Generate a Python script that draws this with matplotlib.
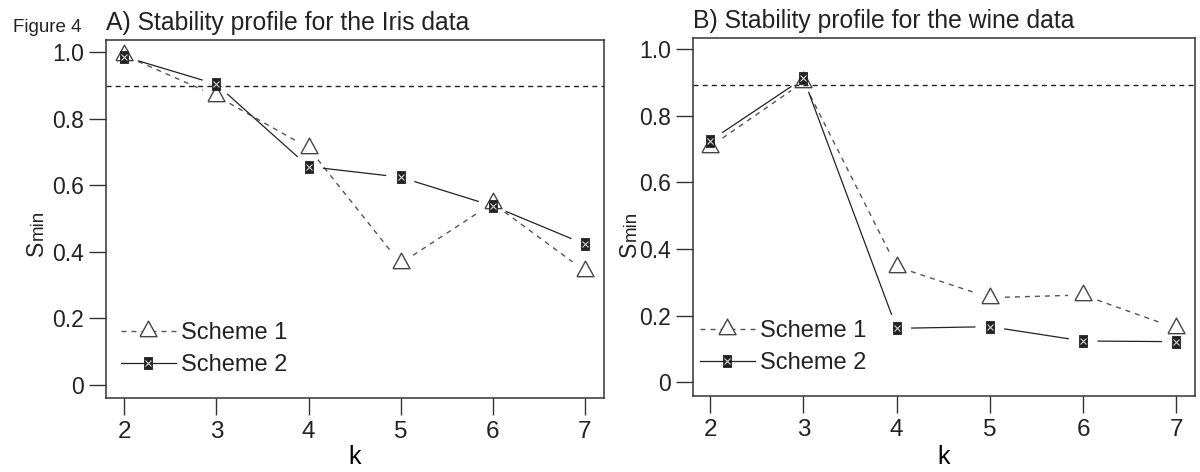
import numpy as np
import matplotlib
matplotlib.use("Agg")
import matplotlib.pyplot as plt
from matplotlib.lines import Line2D

plt.rcParams['font.family'] = ['Liberation Sans', 'DejaVu Sans']
plt.rcParams['text.color'] = '#222222'
plt.rcParams['axes.edgecolor'] = '#333333'
plt.rcParams['xtick.color'] = '#333333'
plt.rcParams['ytick.color'] = '#333333'
plt.rcParams['xtick.labelcolor'] = '#222222'
plt.rcParams['ytick.labelcolor'] = '#222222'

# 데이터
k = [2, 3, 4, 5, 6, 7]

iris_scheme1 = [0.990, 0.868, 0.712, 0.365, 0.546, 0.343]
iris_scheme2 = [0.986, 0.903, 0.656, 0.624, 0.538, 0.423]
iris_cutoff = 0.897

wine_scheme1 = [0.707, 0.901, 0.347, 0.254, 0.262, 0.162]
wine_scheme2 = [0.725, 0.912, 0.162, 0.167, 0.124, 0.122]
wine_cutoff = 0.892

titles = ['A) Stability profile for the Iris data',
          'B) Stability profile for the wine data']
series_labels = ['Scheme 1', 'Scheme 2']
yticks = [0, 0.2, 0.4, 0.6, 0.8, 1.0]
ytick_labels = ['0', '0.2', '0.4', '0.6', '0.8', '1.0']

# 마커 모양 (R의 pch=2 삼각형, pch=7 사각형 흉내)
tri = [(-0.823, -0.5), (0.823, -0.5), (0.0, 1.0), (-0.823, -0.5)]
box = [(-0.69, -1), (0.69, -1), (0.69, 1), (-0.69, 1), (-0.69, -1)]

gray = '#555555'
dark = '#222222'
dash = (0, (3.6, 3.6))

W, H = 1200, 472
fig = plt.figure(figsize=(W / 100, H / 100), dpi=100)


def px(x0, y0, x1, y1):
    # 픽셀 좌표 -> figure 비율
    return [x0 / W, 1 - y1 / H, (x1 - x0) / W, (y1 - y0) / H]


def gapped(ax, xs, ys, gap=15, **kw):
    # R의 type="b" 처럼 점 주변을 비우고 선분만 그림
    pts = ax.transData.transform(np.column_stack([xs, ys]))
    inv = ax.transData.inverted()
    for p, q in zip(pts[:-1], pts[1:]):
        d = q - p
        L = np.hypot(*d)
        if L <= 2 * gap:
            continue
        u = d / L
        a, b = inv.transform(np.array([p + u * gap, q - u * gap]))
        ax.plot([a[0], b[0]], [a[1], b[1]], **kw)


def draw_squares(ax, xs, ys):
    ax.plot(xs, ys, ls='none', marker=box, ms=9.3, mfc=dark, mec=dark,
            mew=0.6, zorder=5)
    ax.plot(xs, ys, ls='none', marker='x', ms=4.6, mec='#d0d0d0',
            mew=0.8, zorder=6)


# (axes 픽셀 박스, xlim, ylim, 시리즈1, 시리즈2, 기준선, y라벨 x, y라벨 y)
panels = [
    ((106, 40, 604, 398), (1.80, 7.21), (-0.039, 1.036),
     iris_scheme1, iris_scheme2, iris_cutoff, 43, 256),
    ((693, 38, 1195, 396), (1.815, 7.20), (-0.041, 1.033),
     wine_scheme1, wine_scheme2, wine_cutoff, 636, 257),
]

for i, (box_px, xlim, ylim, s1, s2, cut, lab_x, lab_y) in enumerate(panels):
    ax = fig.add_axes(px(*box_px))
    ax.set_xlim(*xlim)
    ax.set_ylim(*ylim)
    for sp in ax.spines.values():
        sp.set_linewidth(1.1)

    ax.axhline(cut, color=dark, lw=1.0, ls=(0, (3.6, 3.0)), zorder=2)

    gapped(ax, k, s1, color=gray, lw=1.0, ls=dash, zorder=3)
    gapped(ax, k, s2, color=dark, lw=0.9, zorder=3)
    ax.plot(k, s1, ls='none', marker=tri, ms=14.9, mfc='none', mec='#444444',
            mew=1.0, zorder=4)
    draw_squares(ax, k, s2)

    ax.set_xticks(k)
    ax.set_yticks(yticks)
    ax.set_yticklabels(ytick_labels)
    ax.tick_params(axis='both', direction='out', length=12.5, width=1.0)
    ax.tick_params(axis='y', labelsize=16.5, pad=3.5)
    ax.tick_params(axis='x', labelsize=17.5, pad=4)

    ax.set_title(titles[i], loc='left', fontsize=17.8, pad=7.5)
    ax.set_xlabel('k', fontsize=18, va='baseline')
    x0, y0, x1, y1 = box_px
    ax.xaxis.set_label_coords(0.5, (y1 - 464) / (y1 - y0))

    # y축 이름: S 와 작은 min
    fig.text(lab_x / W, 1 - lab_y / H, 'S', fontsize=16.5, rotation=90,
             rotation_mode='anchor', ha='left', va='baseline')
    fig.text(lab_x / W, 1 - (lab_y - 16) / H, 'min', fontsize=13.5,
             rotation=90, rotation_mode='anchor', ha='left', va='baseline')

    # 범례
    h1 = Line2D([], [], color=gray, lw=1.0, ls=dash, marker=tri, ms=14.9,
                mfc='white', mec='#444444', mew=1.0)
    h2a = Line2D([], [], color=dark, lw=0.9, marker=box, ms=9.3, mfc=dark,
                 mec=dark, mew=0.6)
    h2b = Line2D([], [], ls='none', marker='x', ms=4.6, mec='#d0d0d0', mew=0.8)
    lx = (120.5 - x0) / (x1 - x0) if i == 0 else (699.5 - x0) / (x1 - x0)
    ax.legend([h1, (h2a, h2b)], series_labels, loc='upper left',
              bbox_to_anchor=(lx, 0.212), borderaxespad=0, borderpad=0,
              handlelength=2.35, handletextpad=0.2, labelspacing=0.42,
              frameon=False, fontsize=17)

fig.text(13 / W, 1 - 32 / H, 'Figure 4', fontsize=13.5, va='baseline')

fig.savefig('out.png', dpi=100)
